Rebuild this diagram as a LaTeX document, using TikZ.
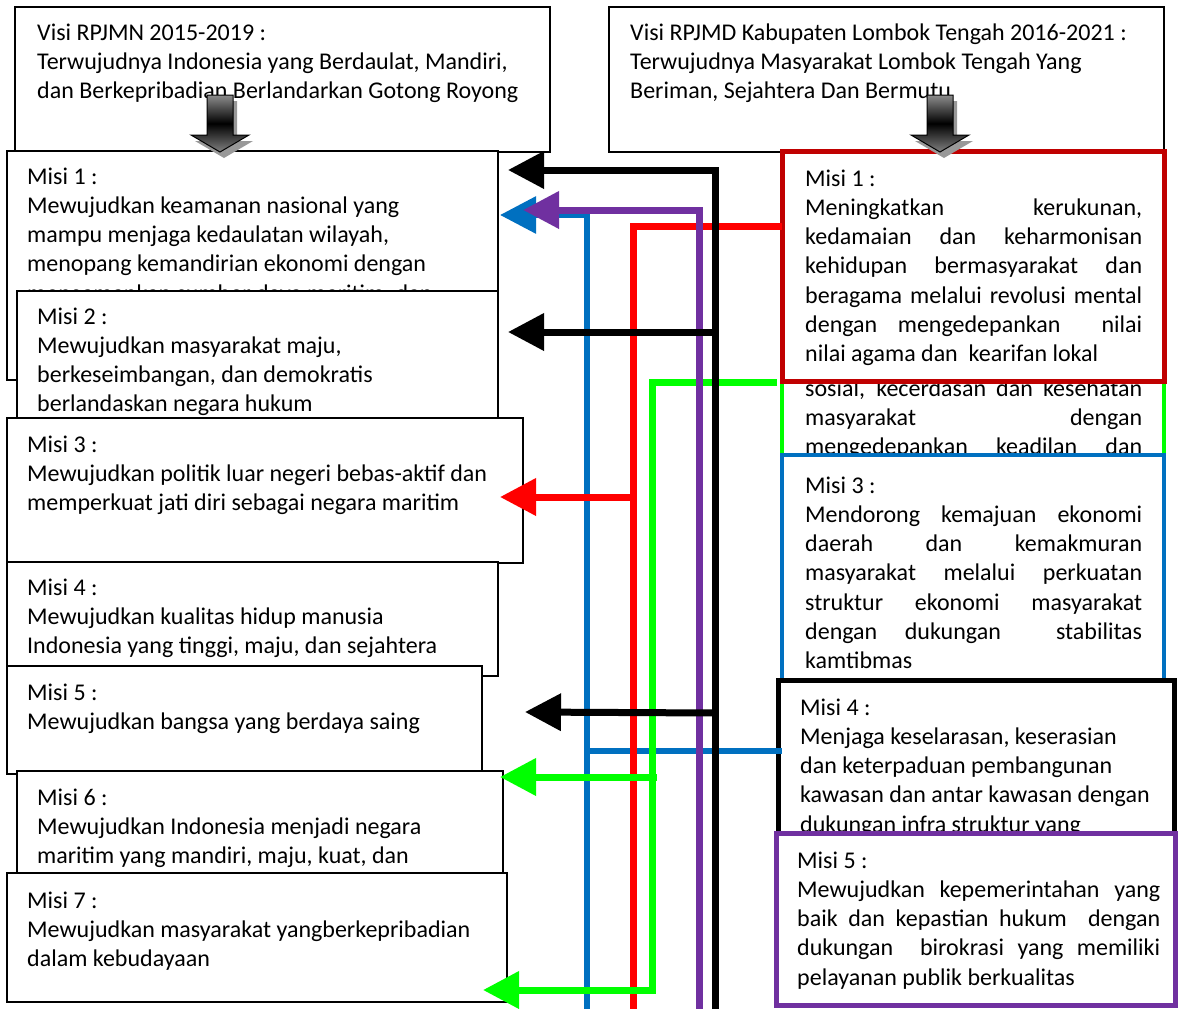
\documentclass[tikz,border=0pt]{standalone}
\usepackage{fontspec}
\setmainfont{Carlito}
\usetikzlibrary{arrows.meta}
\definecolor{cred}{HTML}{FF0000}
\definecolor{cdred}{HTML}{C00000}
\definecolor{cgreen}{HTML}{00FF00}
\definecolor{cblue}{HTML}{0070C0}
\definecolor{cpurple}{HTML}{7030A0}
\newcommand{\jl}[2]{\makebox[#1][s]{#2}}
\begin{document}
\begin{tikzpicture}[x=1pt,y=-1pt,
  box/.style={draw, fill=white, line width=1.6pt, inner sep=0pt},
  cbox/.style={draw=#1, fill=white, line width=5pt, inner sep=0pt},
  txt/.style={anchor=base west, inner sep=0pt, align=left, font=\fontsize{24}{29.3}\selectfont},
  conn/.style={line width=7pt, line join=miter},
  tipend/.style={-{Triangle[length=36pt,width=36pt]}},
  barrow/.pic={
    \fill[black!40] (-9,6) -- (17,6) -- (17,46) -- (33,46) -- (4,63) -- (-25,46) -- (-9,46) -- cycle;
    \shade[top color=black!45, bottom color=black!50, middle color=black, draw=black, line width=1pt]
      (-13,0) -- (13,0) -- (13,40) -- (29,40) -- (0,57) -- (-29,40) -- (-13,40) -- cycle;
  }]
\useasboundingbox (0,0) rectangle (1178,1009);
\fill[white] (0,0) rectangle (1178,1009);

% ---- top visions ----
\node[box, minimum width=535pt, minimum height=145pt] (visiN) at (282.5,79.5) {};
\node[txt] (tvisiN) at (37,98.6) {Visi RPJMN 2015-2019 :\\Terwujudnya Indonesia yang Berdaulat, Mandiri,\\dan Berkepribadian Berlandarkan Gotong Royong};
\node[box, minimum width=555pt, minimum height=145pt] (visiD) at (886.5,79.5) {};
\node[txt] (tvisiD) at (630,98.6) {Visi RPJMD Kabupaten Lombok Tengah 2016-2021 :\\Terwujudnya Masyarakat Lombok Tengah Yang\\Beriman, Sejahtera Dan Bermutu};

% ---- left missions ----
\node[box, minimum width=491pt, minimum height=229pt] (L1) at (252.5,265.5) {};
\node[txt] (tL1) at (27,301.2) {Misi 1 :\\Mewujudkan keamanan nasional yang\\mampu menjaga kedaulatan wilayah,\\menopang kemandirian ekonomi dengan\\mengamankan sumber daya maritim, dan};
\node[box, minimum width=481pt, minimum height=127pt] (L2) at (257.5,354.5) {};
\node[txt] (tL2) at (37,411.9) {Misi 2 :\\Mewujudkan masyarakat maju,\\berkeseimbangan, dan demokratis\\berlandaskan negara hukum};
\node[box, minimum width=516pt, minimum height=145pt] (L3) at (265,490.5) {};
\node[txt] (tL3) at (27,510.6) {Misi 3 :\\Mewujudkan politik luar negeri bebas-aktif dan\\memperkuat jati diri sebagai negara maritim};
\node[box, minimum width=491pt, minimum height=114pt] (L4) at (252.5,619) {};
\node[txt] (tL4) at (27,653.6) {Misi 4 :\\Mewujudkan kualitas hidup manusia\\Indonesia yang tinggi, maju, dan sejahtera};
\node[box, minimum width=475pt, minimum height=108pt] (L5) at (244.5,720) {};
\node[txt] (tL5) at (27,729.3) {Misi 5 :\\Mewujudkan bangsa yang berdaya saing};
\node[box, minimum width=486pt, minimum height=102pt] (L6) at (260,822) {};
\node[txt] (tL6) at (37,863.6) {Misi 6 :\\Mewujudkan Indonesia menjadi negara\\maritim yang mandiri, maju, kuat, dan};
\node[box, minimum width=500pt, minimum height=129pt] (L7) at (257,937.5) {};
\node[txt] (tL7) at (27,966.6) {Misi 7 :\\Mewujudkan masyarakat yangberkepribadian\\dalam kebudayaan};

% ---- right missions ----
\node[cbox=cgreen, line width=3.5pt, minimum width=382pt, minimum height=170pt] (R2) at (973,385) {};
\node[txt] (tR2) at (805,454.6) {\jl{337pt}{sosial, kecerdasan dan kesehatan}\\\jl{337pt}{masyarakat dengan}\\\jl{337pt}{mengedepankan keadilan dan}};
\node[cbox=cdred, minimum width=382pt, minimum height=230pt] (R1) at (973,266) {};
\node[txt] (tR1) at (805,361.8) {Misi 1 :\\\jl{337pt}{Meningkatkan kerukunan,}\\\jl{337pt}{kedamaian dan keharmonisan}\\\jl{337pt}{kehidupan bermasyarakat dan}\\\jl{337pt}{beragama melalui revolusi mental}\\\jl{337pt}{dengan mengedepankan\ \ nilai}\\nilai agama dan\ \ kearifan lokal};
\node[cbox=cblue, line width=4pt, minimum width=382pt, minimum height=235pt] (R3) at (973,572.5) {};
\node[txt] (tR3) at (805,668.8) {Misi 3 :\\\jl{337pt}{Mendorong kemajuan ekonomi}\\\jl{337pt}{daerah dan kemakmuran}\\\jl{337pt}{masyarakat melalui perkuatan}\\\jl{337pt}{struktur ekonomi masyarakat}\\\jl{337pt}{dengan dukungan\ \ stabilitas}\\kamtibmas};
\node[cbox=black, minimum width=396pt, minimum height=170pt] (R4) at (976,765) {};
\node[txt] (tR4) at (800,832.2) {Misi 4 :\\Menjaga keselarasan, keserasian\\dan keterpaduan pembangunan\\kawasan dan antar kawasan dengan\\dukungan infra struktur yang};
\node[cbox=cpurple, minimum width=399pt, minimum height=172pt] (R5) at (975.5,919) {};
\node[txt] (tR5) at (797,985.2) {Misi 5 :\\\jl{363pt}{Mewujudkan kepemerintahan yang}\\\jl{363pt}{baik dan kepastian hukum\ \ dengan}\\\jl{363pt}{dukungan\ \ birokrasi yang memiliki}\\pelayanan publik berkualitas};

% ---- block arrows ----
\pic at (220,95) {barrow};
\pic at (940,95) {barrow};

% ---- coordinates ----
\coordinate (bB) at (587,1009); \coordinate (bT) at (587,215); \coordinate (bA) at (500,215);
\coordinate (bJ) at (587,751); \coordinate (bE) at (782,751);
\coordinate (rB) at (633,1009); \coordinate (rT) at (633,226); \coordinate (rE) at (782,226);
\coordinate (rJ) at (633,497); \coordinate (rA) at (500,497);
\coordinate (gE) at (777,382); \coordinate (gT) at (652,382); \coordinate (gB) at (652,990); \coordinate (gA) at (483,990);
\coordinate (gJ) at (657,777); \coordinate (gA2) at (500,777);
\coordinate (pB) at (699,1009); \coordinate (pT) at (699,210); \coordinate (pA) at (523,210);
\coordinate (kB) at (715,1009); \coordinate (kT) at (715,170); \coordinate (kA1) at (508,170);
\coordinate (kJ2) at (715,332); \coordinate (kA2) at (508,332);
\coordinate (kJ3) at (715,713); \coordinate (kA3) at (525,712);

% ---- connectors ----
\draw[conn, cblue, line width=6pt, tipend] (bB) -- (bT) -- (bA);
\draw[conn, cblue, line width=6pt] (bJ) -- (bE);
\draw[conn, cred] (rB) -- (rT) -- (rE);
\draw[conn, cred, tipend] (rJ) -- (rA);
\draw[conn, cgreen, tipend] (gE) -- (gT) -- (gB) -- (gA);
\draw[conn, cgreen, tipend] (gJ) -- (gA2);
\draw[conn, cpurple, tipend] (pB) -- (pT) -- (pA);
\draw[conn, black, tipend] (kB) -- (kT) -- (kA1);
\draw[conn, black, tipend] (kJ2) -- (kA2);
\draw[conn, black, tipend] (kJ3) -- (kA3);
\end{tikzpicture}
\end{document}
